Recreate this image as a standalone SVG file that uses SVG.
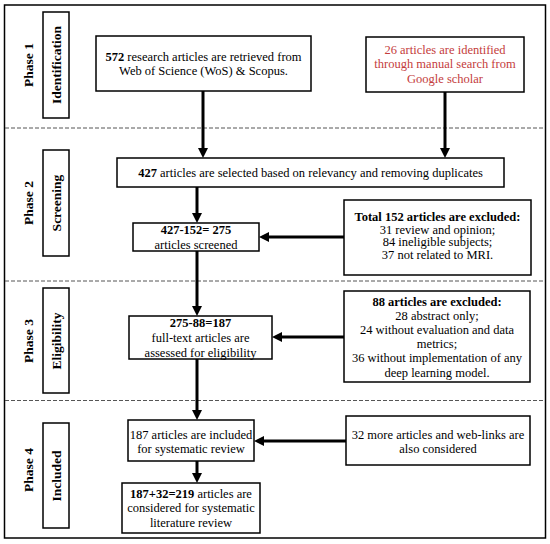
<svg xmlns="http://www.w3.org/2000/svg" width="550" height="544" viewBox="0 0 550 544">
<defs>
<style>
.bx{fill:#fff;stroke:#000;stroke-width:1.5}
.t{font-family:"Liberation Serif","Times New Roman",serif;font-size:12.5px;fill:#000;text-anchor:middle}
.b{font-weight:bold}
.red{fill:#c43c3c}
.ph{font-family:"Liberation Serif","Times New Roman",serif;font-size:13.5px;font-weight:bold;fill:#000;text-anchor:middle}
.dash{stroke:#555;stroke-width:1;stroke-dasharray:4 2}
.ar{stroke:#000;stroke-width:3;fill:none;marker-end:url(#ah)}
</style>
<marker id="ah" viewBox="0 0 10 10" refX="5" refY="5" markerWidth="10" markerHeight="10" markerUnits="userSpaceOnUse" orient="auto">
<path d="M0,0 L10,5 L0,10 z" fill="#000"/>
</marker>
</defs>
<rect x="0" y="0" width="550" height="544" fill="#fff"/>
<rect x="4.5" y="5" width="541" height="533" fill="none" stroke="#000" stroke-width="1.5"/>
<g id="dividers">
<line class="dash" x1="5" y1="128" x2="543" y2="128"/>
<line class="dash" x1="5" y1="281" x2="543" y2="281"/>
<line class="dash" x1="5" y1="400.5" x2="543" y2="400.5"/>
</g>
<g id="phase1">
<text class="ph" transform="translate(33,65) rotate(-90)">Phase 1</text>
<rect class="bx" x="43" y="12" width="26" height="106"/>
<text class="ph" transform="translate(61,65) rotate(-90)">Identification</text>
</g>
<g id="phase2">
<text class="ph" transform="translate(33,203) rotate(-90)">Phase 2</text>
<rect class="bx" x="43" y="150" width="26" height="106"/>
<text class="ph" transform="translate(61,203) rotate(-90)">Screening</text>
</g>
<g id="phase3">
<text class="ph" transform="translate(33,341) rotate(-90)">Phase 3</text>
<rect class="bx" x="43" y="288" width="26" height="105"/>
<text class="ph" transform="translate(61,341) rotate(-90)">Eligibility</text>
</g>
<g id="phase4">
<text class="ph" transform="translate(33,470) rotate(-90)">Phase 4</text>
<rect class="bx" x="43" y="423" width="26" height="105"/>
<text class="ph" transform="translate(61,476) rotate(-90)">Included</text>
</g>
<g id="connectors">
<line class="ar" x1="203" y1="91" x2="203" y2="153"/>
<line class="ar" x1="445" y1="92" x2="445" y2="153"/>
<line class="ar" x1="197" y1="187" x2="197" y2="218"/>
<line class="ar" x1="344" y1="237" x2="264" y2="237"/>
<line class="ar" x1="197" y1="251" x2="197" y2="311"/>
<line class="ar" x1="344" y1="337" x2="277" y2="337"/>
<line class="ar" x1="197" y1="359" x2="197" y2="415"/>
<line class="ar" x1="346" y1="441" x2="259" y2="441"/>
<line class="ar" x1="197" y1="461" x2="197" y2="478"/>
</g>
<g id="n572">
<rect class="bx" x="96" y="36" width="215" height="55"/>
<text class="t" x="203.5" y="61"><tspan class="b">572</tspan> research articles are retrieved from</text>
<text class="t" x="203.5" y="75">Web of Science (WoS) &amp; Scopus.</text>
</g>
<g id="n26">
<rect class="bx" x="366" y="37" width="158" height="55"/>
<text class="t red" x="445" y="54">26 articles are identified</text>
<text class="t red" x="445" y="68">through manual search from</text>
<text class="t red" x="445" y="83">Google scholar</text>
</g>
<g id="n427">
<rect class="bx" x="117" y="158" width="387" height="29"/>
<text class="t" x="310.5" y="177"><tspan class="b">427</tspan> articles are selected based on relevancy and removing duplicates</text>
</g>
<g id="n275">
<rect class="bx" x="133" y="223" width="126" height="28"/>
<text class="t b" x="196" y="234">427-152= 275</text>
<text class="t" x="196" y="249">articles screened</text>
</g>
<g id="ex152">
<rect class="bx" x="344" y="200" width="187" height="75"/>
<text class="t b" x="437.5" y="221">Total 152 articles are excluded:</text>
<text class="t" x="437.5" y="233.5">31 review and opinion;</text>
<text class="t" x="437.5" y="246">84 ineligible subjects;</text>
<text class="t" x="437.5" y="259">37 not related to MRI.</text>
</g>
<g id="n187e">
<rect class="bx" x="129" y="316" width="143" height="43"/>
<text class="t b" x="200.5" y="327">275-88=187</text>
<text class="t" x="200.5" y="342">full-text articles are</text>
<text class="t" x="200.5" y="356.5">assessed for eligibility</text>
</g>
<g id="ex88">
<rect class="bx" x="344" y="291" width="186" height="91"/>
<text class="t b" x="437" y="306">88 articles are excluded:</text>
<text class="t" x="437" y="320">28 abstract only;</text>
<text class="t" x="437" y="334">24 without evaluation and data</text>
<text class="t" x="437" y="348">metrics;</text>
<text class="t" x="437" y="362">36 without implementation of any</text>
<text class="t" x="437" y="377">deep learning model.</text>
</g>
<g id="n187i">
<rect class="bx" x="128" y="420" width="126" height="41"/>
<text class="t" x="191" y="439">187 articles are included</text>
<text class="t" x="191" y="453">for systematic review</text>
</g>
<g id="n32">
<rect class="bx" x="346" y="416" width="184" height="49"/>
<text class="t" x="438" y="439">32 more articles and web-links are</text>
<text class="t" x="438" y="453">also considered</text>
</g>
<g id="n219">
<rect class="bx" x="122" y="483" width="138" height="50"/>
<text class="t" x="191" y="498"><tspan class="b">187+32=219</tspan> articles are</text>
<text class="t" x="191" y="512">considered for systematic</text>
<text class="t" x="191" y="527">literature review</text>
</g>
</svg>
